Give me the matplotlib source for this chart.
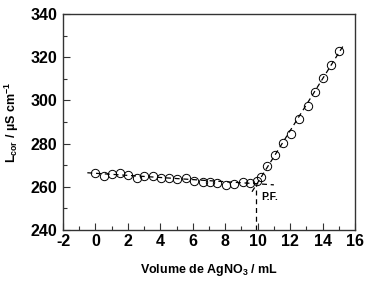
import matplotlib
matplotlib.use("Agg")
import matplotlib.pyplot as plt
from matplotlib.ticker import MultipleLocator

plt.rcParams['font.family'] = ['Liberation Sans', 'DejaVu Sans']
plt.rcParams['font.weight'] = 'bold'
plt.rcParams['axes.unicode_minus'] = False
plt.rcParams['mathtext.fontset'] = 'custom'
plt.rcParams['mathtext.rm'] = 'Liberation Sans:bold'
plt.rcParams['mathtext.bf'] = 'Liberation Sans:bold'
plt.rcParams['mathtext.it'] = 'Liberation Sans:bold'
plt.rcParams['mathtext.default'] = 'bf'

vol = [0.0, 0.53, 1.04, 1.52, 2.03, 2.55, 3.0, 3.53, 4.05, 4.56, 5.05, 5.6, 6.1, 6.6,
       7.07, 7.5, 8.04, 8.55, 9.07, 9.54, 9.95,
       10.22, 10.6, 11.09, 11.54, 12.05, 12.57, 13.08, 13.56, 14.03, 14.52, 15.0]
cond = [266.3, 265.1, 266.0, 266.3, 265.5, 263.9, 265.1, 265.1, 263.9, 263.9, 263.5, 263.9,
        262.8, 262.4, 262.1, 261.6, 260.8, 261.1, 262.1, 261.6, 262.8,
        264.7, 269.8, 274.7, 280.4, 284.3, 291.3, 297.4, 304.0, 310.2, 316.4, 323.0]

fit1_x = [-0.5, 11.0]
fit1_y = [266.5, 260.9]
fit2_x = [9.65, 15.3]
fit2_y = [257.7, 325.6]
pf_x = 9.89
pf_y = [240.0, 261.3]

fig = plt.figure(figsize=(3.69, 2.84), dpi=100)
ax = fig.add_axes([63/369, 1-230/284, (355-63)/369, (230-14)/284])

ax.plot(fit1_x, fit1_y, ls=(0, (4, 3)), color='black', lw=0.9)
ax.plot(fit2_x, fit2_y, ls=(0, (4, 3)), color='black', lw=0.9)
ax.plot([pf_x, pf_x], pf_y, ls=(0, (4, 3)), color='black', lw=0.9)
ax.plot(vol, cond, 'o', ms=6, mfc='none', mec='black', mew=0.7)

ax.text(10.25, 255.5, 'P.F.', fontsize=7.5, fontweight='bold', va='center', ha='left')

ax.set_xlim(-2, 16)
ax.set_ylim(240, 340)
ax.xaxis.set_major_locator(MultipleLocator(2))
ax.xaxis.set_minor_locator(MultipleLocator(1))
ax.yaxis.set_major_locator(MultipleLocator(20))
ax.yaxis.set_minor_locator(MultipleLocator(10))
ax.tick_params(which='both', direction='in', top=False, right=False, labelsize=11.5, width=0.8, color='#333333')
ax.tick_params(which='major', length=5)
ax.tick_params(which='minor', length=3)
ax.tick_params(axis='x', which='major', pad=3)
ax.tick_params(axis='y', which='major', pad=4)
for s in ax.spines.values():
    s.set_linewidth(1.0)
    s.set_color('#333333')
for lab in ax.get_xticklabels() + ax.get_yticklabels():
    lab.set_fontweight('bold')

ax.set_xlabel('Volume de AgNO$_{3}$ / mL', fontsize=9, fontweight='bold', labelpad=9)
ax.set_ylabel('L$_{cor}$ / µS cm$^{-1}$', fontsize=9, fontweight='bold', labelpad=7)

fig.savefig('out.png', dpi=100)
